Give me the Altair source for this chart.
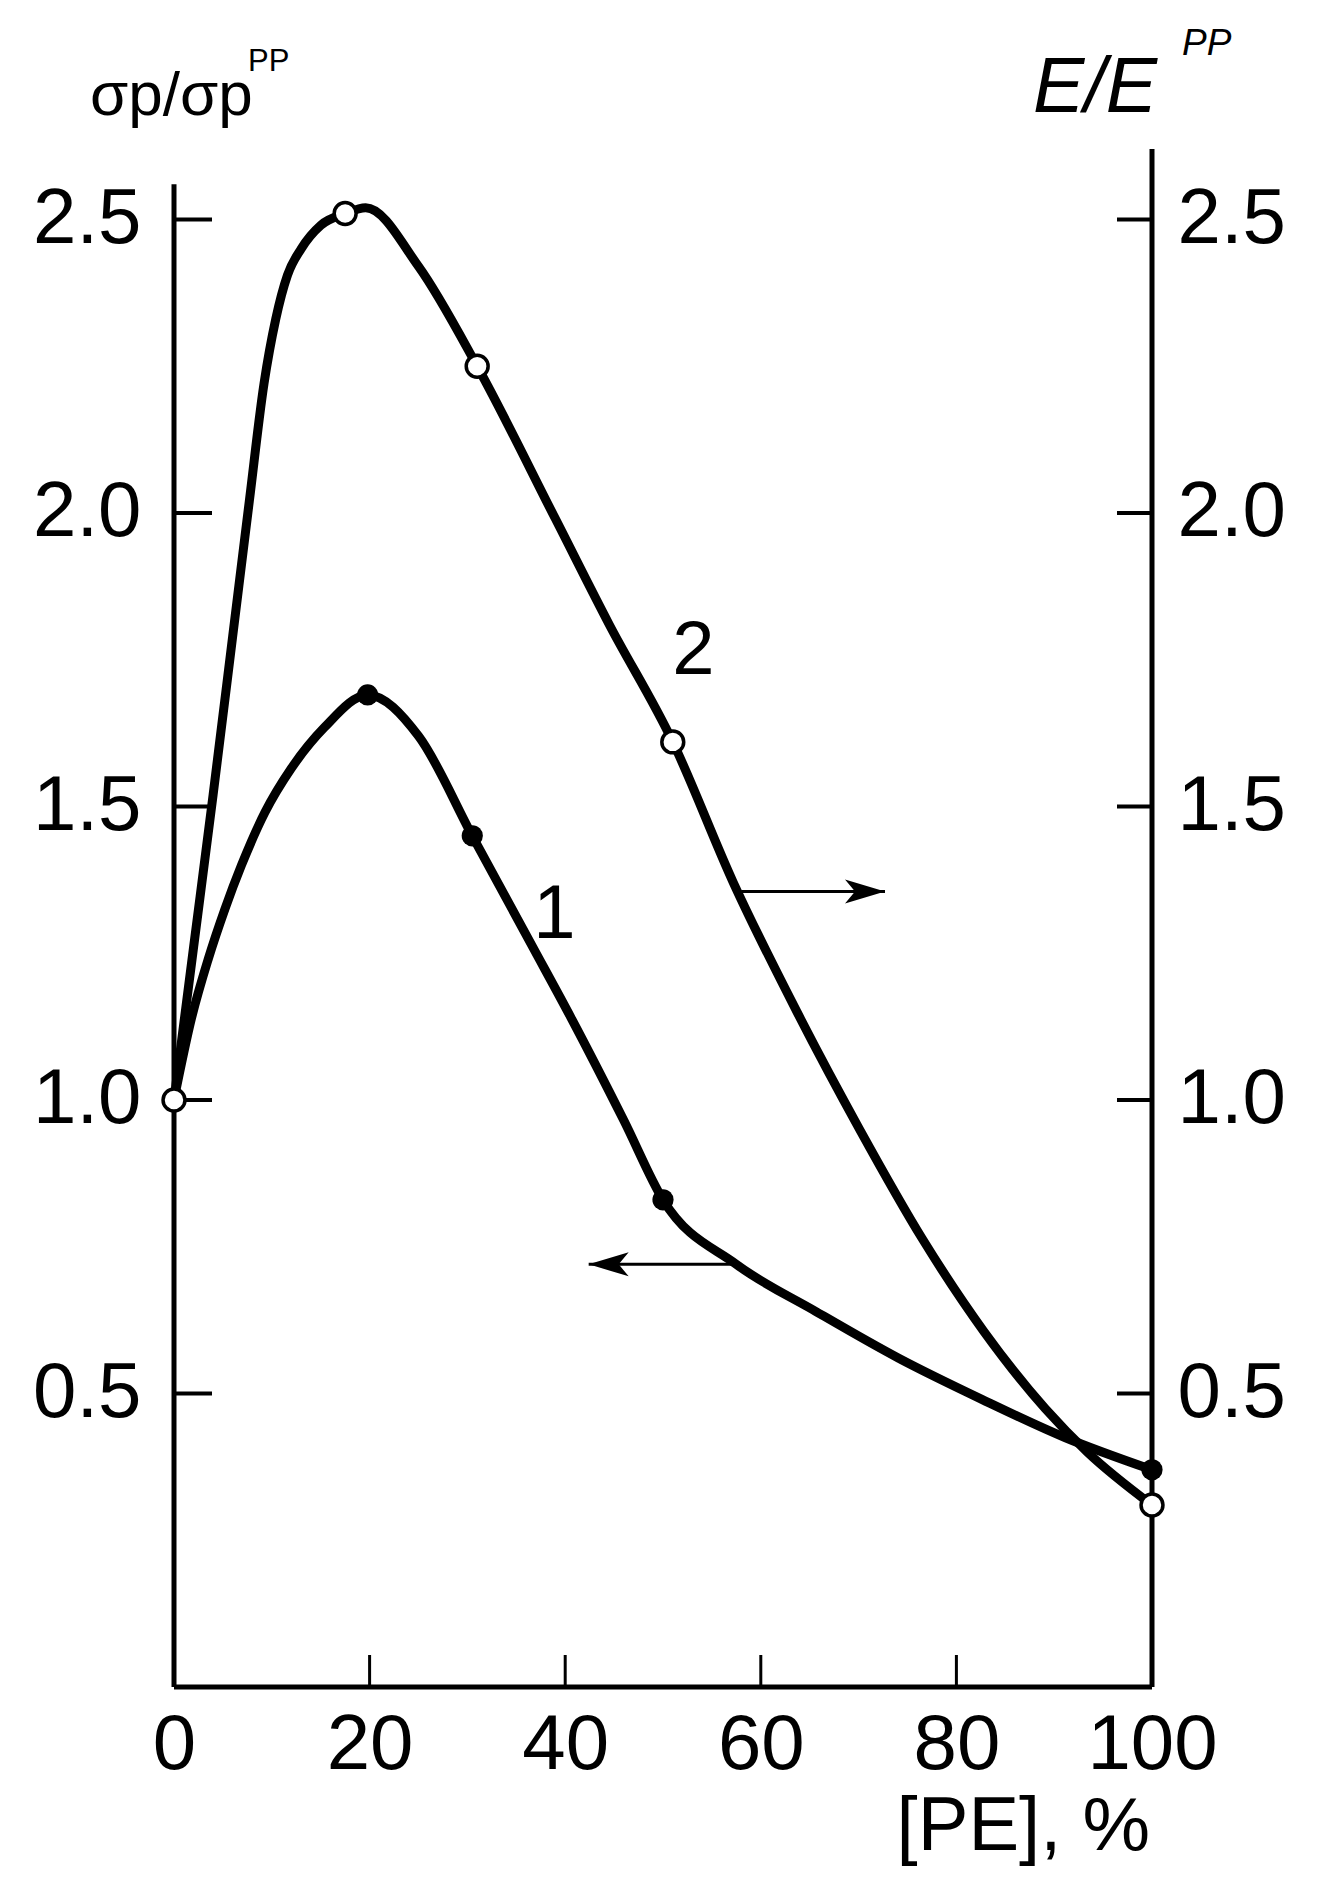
import altair as alt
import pandas as pd

# ---------------- data ----------------
# measured points, curve 1 (filled, sigma_p / sigma_p^PP, left axis)
c1_x = [0, 19.8, 30.5, 50, 100]
c1_y = [1.0, 1.69, 1.45, 0.83, 0.37]
# measured points, curve 2 (open, E / E^PP, right axis)
c2_x = [0, 17.5, 31, 51, 100]
c2_y = [1.0, 2.51, 2.25, 1.61, 0.31]

# traced smooth curves
t1_x = [0, 1.8, 3.5, 5.2, 6.9, 9.3, 12, 15.4, 19.8, 25, 30.5, 36.7, 40.6,
        46, 50, 57.5, 65.6, 74.1, 82.6, 91.1, 100]
t1_y = [1.0, 1.14, 1.24, 1.325, 1.40, 1.49, 1.565, 1.635, 1.69, 1.62, 1.45,
        1.26, 1.14, 0.965, 0.83, 0.72, 0.64, 0.56, 0.49, 0.425, 0.37]
t2_x = [0, 2, 4, 6, 7.7, 9.2, 10.4, 11.6, 13, 15, 17.5, 19.6, 25, 31, 39,
        44.5, 51, 57.2, 63.7, 70.1, 76.5, 82.8, 89.1, 93.4, 100]
t2_y = [1.0, 1.26, 1.52, 1.79, 2.02, 2.22, 2.33, 2.405, 2.45, 2.49, 2.51, 2.52,
        2.42, 2.25, 1.99, 1.81, 1.61, 1.37, 1.15, 0.95, 0.764, 0.606, 0.474,
        0.40, 0.31]

# arrows (start x, end x, y)
arr_x1 = [58, 58]
arr_x2 = [72.7, 42.4]
arr_y = [1.355, 0.72]
arr_angle = [0, 180]

# curve labels
lab_text = ["1", "2"]
lab_x = [38.9, 53.1]
lab_y = [1.315, 1.765]

x_ticks = [0, 20, 40, 60, 80, 100]
x_inner_ticks = [20, 40, 60, 80]
y_ticks = [0.5, 1.0, 1.5, 2.0, 2.5]

# ---------------- layout / style ----------------
W, H = 978, 1538
FONT = "Liberation Sans"
LBL = 78
LEFT_TOP = 2.56
RIGHT_TOP = 2.62

xs = alt.Scale(domain=[0, 100], nice=False, zero=False)
ys = alt.Scale(domain=[0, 2.62], nice=False, zero=False)

xq = alt.X("x:Q", scale=xs, axis=None)
yq = alt.Y("y:Q", scale=ys, axis=None)

df1 = pd.DataFrame({"x": t1_x, "y": t1_y})
df2 = pd.DataFrame({"x": t2_x, "y": t2_y})
p1 = pd.DataFrame({"x": c1_x, "y": c1_y})
p2 = pd.DataFrame({"x": c2_x, "y": c2_y})

line1 = alt.Chart(df1).mark_line(
    interpolate="monotone", color="black", strokeWidth=9, strokeCap="round",
    strokeJoin="round"
).encode(
    x=alt.X("x:Q", scale=xs, axis=alt.Axis(
        values=x_ticks, format="d", labelFont=FONT, labelFontSize=LBL,
        labelColor="black", labelPadding=19, ticks=False, domain=False,
        grid=False, title=None, labelOverlap=False, labelFlush=False)),
    y=alt.Y("y:Q", scale=ys, axis=alt.Axis(
        orient="left", values=y_ticks, format=".1f", labelFont=FONT,
        labelFontSize=LBL, labelColor="black", labelPadding=33, ticks=False,
        domain=False, grid=False, title=None, labelOverlap=False,
        labelFlush=False)),
)

line2 = alt.Chart(df2).mark_line(
    interpolate="monotone", color="black", strokeWidth=9, strokeCap="round",
    strokeJoin="round"
).encode(
    x=xq,
    y=alt.Y("y:Q", scale=ys, axis=alt.Axis(
        orient="right", values=y_ticks, format=".1f", labelFont=FONT,
        labelFontSize=LBL, labelColor="black", labelPadding=25, ticks=False,
        domain=False, grid=False, title=None, labelOverlap=False,
        labelFlush=False)),
)

pts1 = alt.Chart(p1).mark_point(
    shape="circle", filled=True, color="black", size=450, opacity=1
).encode(x=xq, y=yq)

pts2 = alt.Chart(p2).mark_point(
    shape="circle", filled=True, fill="white", stroke="black", strokeWidth=3.5,
    size=480, opacity=1
).encode(x=xq, y=yq)

# axis lines
ax_df = pd.DataFrame({"x": [0, 100], "y": [0, 0], "y2": [LEFT_TOP, RIGHT_TOP]})
ax_v = alt.Chart(ax_df).mark_rule(color="black", strokeWidth=5).encode(
    x=xq, y=yq, y2="y2:Q")
ax_h = alt.Chart(pd.DataFrame({"x": [0], "x2": [100], "y": [0]})).mark_rule(
    color="black", strokeWidth=5).encode(x=xq, x2="x2:Q", y=yq)

tick_df = pd.DataFrame({"y": y_ticks})
ticks_left = alt.Chart(tick_df).mark_rule(color="black", strokeWidth=4).encode(
    y=yq, x=alt.value(0), x2=alt.value(38))
ticks_right = alt.Chart(tick_df).mark_rule(color="black", strokeWidth=4).encode(
    y=yq, x=alt.value(W - 35), x2=alt.value(W))
ticks_x = alt.Chart(pd.DataFrame({"x": x_inner_ticks})).mark_rule(
    color="black", strokeWidth=3).encode(
    x=xq, y=alt.value(H), y2=alt.value(H - 32))

# arrows
arr_df = pd.DataFrame({"x": arr_x1, "x2": arr_x2, "y": arr_y, "a": arr_angle})
arr_lines = alt.Chart(arr_df).mark_rule(color="black", strokeWidth=3).encode(
    x=xq, x2="x2:Q", y=yq)
arr_heads = alt.Chart(arr_df).mark_point(
    shape="M0,0L-1,-0.3L-0.75,0L-1,0.3Z", filled=True, color="black",
    size=6400, opacity=1
).encode(x=alt.X("x2:Q", scale=xs, axis=None), y=yq,
         angle=alt.Angle("a:Q", scale=None))

# curve labels
lab_df = pd.DataFrame({"t": lab_text, "x": lab_x, "y": lab_y})
labels = alt.Chart(lab_df).mark_text(
    font=FONT, fontSize=76, color="black", baseline="middle", align="center"
).encode(x=xq, y=yq, text="t:N")

# axis titles
one = pd.DataFrame({"k": [0]})


def title_text(txt, px, py, size, style="normal", align="left"):
    return alt.Chart(one).mark_text(
        text=txt, font=FONT, fontSize=size, fontStyle=style, color="black",
        align=align, baseline="alphabetic"
    ).encode(x=alt.value(px), y=alt.value(py))


t_sig = title_text("σp/σp", -84, -34, 62)
t_sig_sup = title_text("PP", 74, -78, 31)
t_e = title_text("E/E", 859, -37, 77, style="italic")
t_e_sup = title_text("PP", 1008, -94, 37, style="italic")
t_x = title_text("[PE], %", 976, 1701, 76, align="right")

chart = alt.layer(
    ax_v, ax_h, ticks_left, ticks_right, ticks_x,
    line1, line2, pts1, pts2, arr_lines, arr_heads, labels,
    t_sig, t_sig_sup, t_e, t_e_sup, t_x,
).resolve_scale(
    y="shared", x="shared"
).resolve_axis(
    y="independent", x="independent"
).properties(
    width=W, height=H,
    autosize=alt.AutoSizeParams(type="none"),
    padding={"left": 166, "top": 141, "right": 174, "bottom": 200},
    background="white",
).configure_view(stroke=None)

chart.save("out.html", embed_options={"renderer": "svg", "actions": False})
